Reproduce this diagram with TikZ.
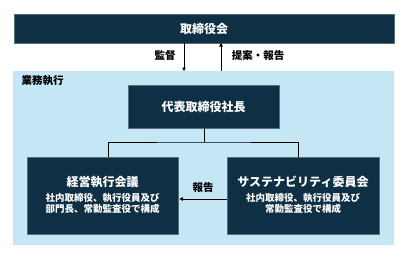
\documentclass[tikz,border=0pt]{standalone}
\usepackage{fontspec}
\setmainfont{Noto Sans CJK JP}
\usetikzlibrary{arrows.meta}
\definecolor{navy}{HTML}{0E2F44}
\definecolor{pale}{HTML}{C5E6F5}
\tikzset{
  dark/.style={fill=navy,draw=navy!70!white,line width=0.4pt,text=white,font=\bfseries\fontsize{12}{14}\selectfont,inner sep=0pt},
  sub/.style={font=\bfseries\fontsize{9.5}{11}\selectfont,align=center},
  lbl/.style={font=\bfseries\fontsize{10.5}{12}\selectfont,text=black},
  conn/.style={line width=0.9pt,draw=black},
  arr/.style={conn,-{Triangle[length=3.5pt,width=3.5pt]}}
}
\begin{document}
\begin{tikzpicture}[x=1pt,y=-1pt]
\useasboundingbox (0,0) rectangle (407,257);
\fill[white] (0,0) rectangle (407,257);
% region
\node[fill=pale,minimum width=381pt,minimum height=174pt,inner sep=0pt,anchor=north west] (region) at (13,71) {};
\node[lbl,anchor=west] (gyomu) at (18,81) {業務執行};
% boxes
\node[dark,minimum width=380pt,minimum height=29pt,anchor=north west] (board) at (14,14) {取締役会};
\node[dark,minimum width=151pt,minimum height=43pt,anchor=north west] (pres) at (128,85) {代表取締役社長};
\node[dark,minimum width=151pt,minimum height=77pt,anchor=north west] (exec) at (27,157) {};
\node[dark,minimum width=152pt,minimum height=77pt,anchor=north west] (sust) at (227,157) {};
\node[text=white,font=\bfseries\fontsize{12}{14}\selectfont] (exect) at (102.5,182) {経営執行会議};
\node[text=white,sub] (execs) at (102.5,203) {社内取締役、執行役員及び\\部門長、常勤監査役で構成};
\node[text=white,font=\bfseries\fontsize{12}{14}\selectfont] (sustt) at (303,182) {サステナビリティ委員会};
\node[text=white,sub] (susts) at (303,203) {社内取締役、執行役員及び\\常勤監査役で構成};
% board arrows
\coordinate (d1) at (184,43);
\coordinate (d2) at (184,71);
\coordinate (u1) at (221,71);
\coordinate (u2) at (221,43);
\draw[arr] (d1) -- (d2);
\draw[arr] (u1) -- (u2);
\node[lbl] (kantoku) at (165,56) {監督};
\node[lbl] (teian) at (258,56) {提案・報告};
% tree
\coordinate (j) at (204,142);
\draw[conn] (pres.south -| j) -- (j);
\draw[conn] (exec.north -| 108,0) |- (j) -| (sust.north -| 298,0);
% report arrow
\draw[arr] (sust.west |- 0,199) -- ([xshift=1pt]exec.east |- 0,199);
\node[lbl] (hokoku) at (203,188) {報告};
\end{tikzpicture}
\end{document}
